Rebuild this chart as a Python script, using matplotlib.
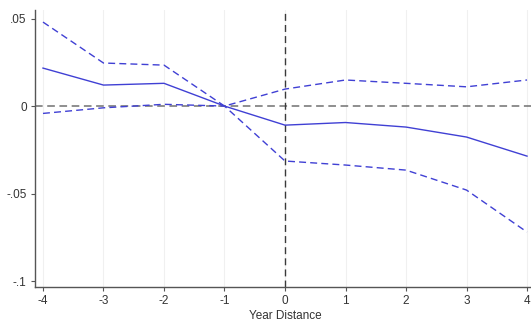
import matplotlib
matplotlib.use("Agg")
import matplotlib.pyplot as plt

plt.rcParams['font.family'] = ['Liberation Sans', 'DejaVu Sans']
plt.rcParams['axes.unicode_minus'] = False

years = [-4, -3, -2, -1, 0, 1, 2, 3, 4]
coef = [0.0217, 0.0120, 0.0130, 0.0, -0.0109, -0.0094, -0.0120, -0.0177, -0.0286]
ci_upper = [0.0480, 0.0246, 0.0234, 0.0, 0.0097, 0.0149, 0.0130, 0.0110, 0.0149]
ci_lower = [-0.0042, -0.0010, 0.0010, 0.0, -0.0314, -0.0337, -0.0366, -0.0480, -0.0720]

xticks = [-4, -3, -2, -1, 0, 1, 2, 3, 4]
yticks = [0.05, 0.0, -0.05, -0.1]
ytick_labels = ['.05', '0', '-.05', '-.1']

fig = plt.figure(figsize=(5.31, 3.24), dpi=100)
ax = fig.add_axes([35 / 531, 37 / 324, 500 / 531, 277 / 324])

blue = '#4040d4'
ax.plot(years, coef, color=blue, lw=1.0, zorder=3)
ax.plot(years, ci_upper, color=blue, lw=1.0, dashes=(5, 3), zorder=3)
ax.plot(years, ci_lower, color=blue, lw=1.0, dashes=(5, 3), zorder=3)

ax.axhline(0, color='#707070', lw=1.1, dashes=(5, 3), zorder=2)
ax.axvline(0, color='#3a3a3a', lw=1.0, dashes=(5, 3), zorder=2)

ax.set_xlim(-4.132, 4.132)
ax.set_ylim(-0.1034, 0.0549)
ax.set_xticks(xticks)
ax.set_yticks(yticks)
ax.set_yticklabels(ytick_labels)
ax.grid(axis='x', color='#f0f0f0', lw=0.8, zorder=0)

for s in ['top', 'right']:
    ax.spines[s].set_visible(False)
for s in ['left', 'bottom']:
    ax.spines[s].set_color('#555555')
    ax.spines[s].set_linewidth(1.0)
ax.tick_params(axis='both', direction='out', length=3, width=0.8, color='#555555',
               labelsize=8.5, labelcolor='#333333', pad=3)
ax.set_xlabel('Year Distance', fontsize=8.5, color='#333333', labelpad=2)

fig.savefig('out.png', dpi=100, facecolor='white')
